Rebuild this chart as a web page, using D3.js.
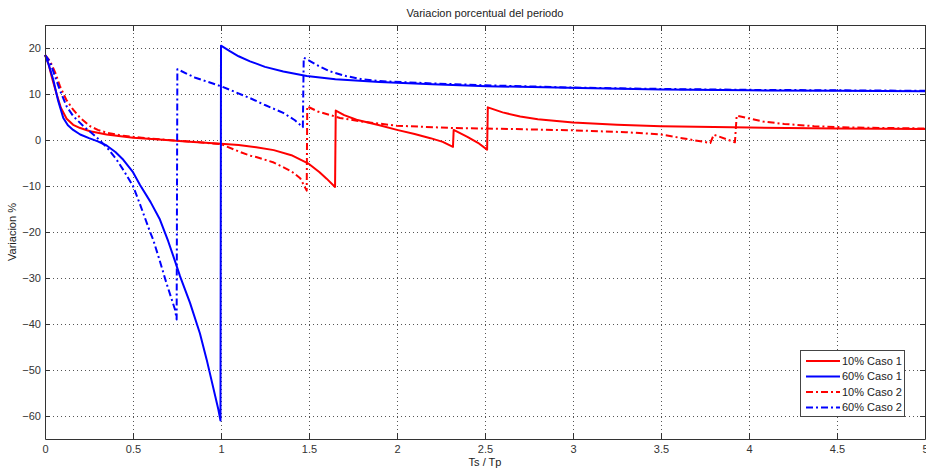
<!DOCTYPE html>
<html><head><meta charset="utf-8">
<script src="https://cdn.jsdelivr.net/npm/d3@7"></script>
<style>
body{margin:0;background:#fff;}
svg{display:block;font-family:"Liberation Sans",Arial,Helvetica,sans-serif;}
</style></head>
<body><svg id="c" width="926" height="471"></svg>
<script>
const title = "Variacion porcentual del periodo";
const xLabel = "Ts / Tp";
const yLabel = "Variacion %";
const xTicks = [0,0.5,1,1.5,2,2.5,3,3.5,4,4.5,5];
const yTicks = [-60,-50,-40,-30,-20,-10,0,10,20];
const seriesNames = ["10% Caso 1","60% Caso 1","10% Caso 2","60% Caso 2"];
const seriesColors = ["#ff0000","#0000ff","#ff0000","#0000ff"];
const seriesDash = [null,null,"7,3,2,3","7,3,2,3"];

const caso1_10 = [[0,18.5],[0.02,16.5],[0.04,13.5],[0.066,10.0],[0.09,7.0],[0.123,4.6],[0.16,3.3],[0.2,2.6],[0.256,1.9],[0.35,1.2],[0.5,0.5],[0.65,0.1],[0.8,-0.3],[1.0,-0.8],[1.1,-1.1],[1.2,-1.6],[1.3,-2.2],[1.4,-3.3],[1.5,-5.2],[1.56,-7.0],[1.6,-8.4],[1.648,-10.2],[1.652,6.4],[1.7,5.4],[1.77,4.4],[1.9,3.2],[2.0,2.2],[2.1,1.3],[2.19,0.4],[2.26,-0.4],[2.318,-1.5],[2.322,2.2],[2.4,0.7],[2.46,-0.6],[2.512,-2.1],[2.516,7.1],[2.6,6.0],[2.7,5.1],[2.8,4.5],[3.0,3.8],[3.25,3.3],[3.5,3.0],[4.0,2.7],[4.5,2.5],[5.0,2.4]];
const caso1_60 = [[0,18.5],[0.02,16.5],[0.047,13.1],[0.075,8.5],[0.104,4.8],[0.13,3.2],[0.16,2.2],[0.2,1.2],[0.25,0.4],[0.3,-0.3],[0.35,-1.2],[0.4,-2.6],[0.445,-4.3],[0.5,-7.0],[0.54,-9.8],[0.6,-13.5],[0.653,-17.3],[0.7,-22.0],[0.742,-26.7],[0.767,-29.6],[0.824,-35.4],[0.88,-42.0],[0.919,-47.8],[0.985,-58.6],[0.997,-61.0],[1.0,20.5],[1.05,19.3],[1.1,18.2],[1.165,17.1],[1.25,15.9],[1.354,14.9],[1.487,13.9],[1.65,13.2],[1.9,12.6],[2.2,12.1],[2.51,11.7],[3.04,11.3],[3.5,11.0],[4.0,10.8],[4.5,10.7],[5.0,10.6]];
const caso2_10 = [[0,18.5],[0.028,17.2],[0.06,14.5],[0.085,11.7],[0.12,8.8],[0.16,6.6],[0.2,4.8],[0.256,3.0],[0.3,2.2],[0.35,1.6],[0.445,0.9],[0.55,0.5],[0.7,0.0],[0.85,-0.4],[1.0,-0.9],[1.108,-2.6],[1.165,-3.4],[1.2,-3.7],[1.3,-4.9],[1.4,-6.8],[1.45,-8.3],[1.487,-11.0],[1.49,7.3],[1.55,6.2],[1.676,4.8],[1.8,4.0],[2.0,3.1],[2.32,2.6],[2.51,2.5],[3.0,2.1],[3.3,1.7],[3.5,1.2],[3.62,0.4],[3.78,-0.65],[3.8,1.15],[3.92,-0.5],[3.93,5.3],[4.08,4.0],[4.2,3.5],[4.37,3.0],[4.6,2.7],[5.0,2.5]];
const caso2_60 = [[0,18.5],[0.028,17.0],[0.06,13.5],[0.085,10.8],[0.123,7.3],[0.16,5.2],[0.218,3.0],[0.26,1.7],[0.31,0.0],[0.36,-2.0],[0.407,-4.3],[0.45,-6.8],[0.5,-10.0],[0.54,-14.0],[0.597,-20.0],[0.615,-21.7],[0.65,-26.0],[0.69,-31.1],[0.739,-36.9],[0.748,-39.0],[0.752,15.4],[0.85,13.6],[1.003,11.65],[1.165,9.1],[1.25,7.6],[1.354,5.9],[1.42,4.3],[1.465,2.8],[1.47,17.9],[1.55,16.2],[1.62,14.9],[1.71,13.9],[1.8,13.2],[1.9,12.8],[2.2,12.3],[2.5,11.9],[3.0,11.4],[3.5,11.1],[4.0,10.9],[4.5,10.8],[5.0,10.7]];
const seriesData = [caso1_10, caso1_60, caso2_10, caso2_60];

const svg = d3.select("#c");
const L = 45, R = 925, T = 25, B = 439;
const x = d3.scaleLinear().domain([0,5]).range([L,R]);
const y = d3.scaleLinear().domain([-65,25]).range([B,T]);

// grid
const grid = svg.append("g").attr("stroke","#555").attr("stroke-width",1).attr("stroke-dasharray","1,3").attr("shape-rendering","crispEdges");
grid.selectAll("line.v").data(xTicks.filter(d=>d>0&&d<5)).join("line")
  .attr("x1",d=>Math.round(x(d))+0.5).attr("x2",d=>Math.round(x(d))+0.5).attr("y1",T).attr("y2",B);
grid.selectAll("line.h").data(yTicks).join("line")
  .attr("y1",d=>Math.round(y(d))+0.5).attr("y2",d=>Math.round(y(d))+0.5).attr("x1",L).attr("x2",R);

// lines
const line = d3.line().x(d=>x(d[0])).y(d=>y(d[1]));
const plot = svg.append("g");
seriesData.forEach((data,i)=>{
  plot.append("path").datum(data).attr("d",line)
    .attr("fill","none").attr("stroke",seriesColors[i]).attr("stroke-width",2)
    .attr("stroke-linejoin","round")
    .attr("stroke-dasharray",seriesDash[i]);
});

// axes
function styleAxis(g){
  g.select(".domain").attr("stroke","#333");
  g.selectAll(".tick line").attr("stroke","#333");
  g.selectAll(".tick text").attr("fill","#333").attr("font-size",11).attr("font-family",'"Liberation Sans",Arial,sans-serif');
}
svg.append("g").attr("transform",`translate(0,${B})`)
  .call(d3.axisBottom(x).tickValues(xTicks).tickFormat(d3.format("")).tickSize(-6).tickSizeOuter(0).tickPadding(6))
  .call(styleAxis);
svg.append("g").attr("transform",`translate(${L},0)`)
  .call(d3.axisLeft(y).tickValues(yTicks).tickFormat(d3.format("")).tickSize(-5).tickSizeOuter(0).tickPadding(4))
  .call(styleAxis);
svg.append("g").attr("transform",`translate(0,${T})`)
  .call(d3.axisTop(x).tickValues(xTicks).tickFormat("").tickSize(-6).tickSizeOuter(0))
  .call(styleAxis);
svg.append("g").attr("transform",`translate(${R},0)`)
  .call(d3.axisRight(y).tickValues(yTicks).tickFormat("").tickSize(-5).tickSizeOuter(0))
  .call(styleAxis);

// titles
svg.append("text").attr("x",(L+R)/2).attr("y",17).attr("text-anchor","middle").attr("font-size",11).attr("fill","#222").text(title);
svg.append("text").attr("x",(L+R)/2).attr("y",466).attr("text-anchor","middle").attr("font-size",11).attr("fill","#222").text(xLabel);
svg.append("text").attr("transform",`translate(16,${(T+B)/2}) rotate(-90)`).attr("text-anchor","middle").attr("font-size",11).attr("fill","#222").text(yLabel);

// legend
const lg = svg.append("g");
lg.append("rect").attr("x",800.5).attr("y",350.5).attr("width",104).attr("height",66).attr("fill","#fff").attr("stroke","#444");
seriesNames.forEach((n,i)=>{
  const yy = 361 + i*15.5;
  lg.append("line").attr("x1",806).attr("x2",840).attr("y1",yy).attr("y2",yy)
    .attr("stroke",seriesColors[i]).attr("stroke-width",2).attr("stroke-dasharray",seriesDash[i]);
  lg.append("text").attr("x",842).attr("y",yy).attr("dy","0.35em").attr("font-size",11).attr("fill","#222").text(n);
});
</script></body></html>
